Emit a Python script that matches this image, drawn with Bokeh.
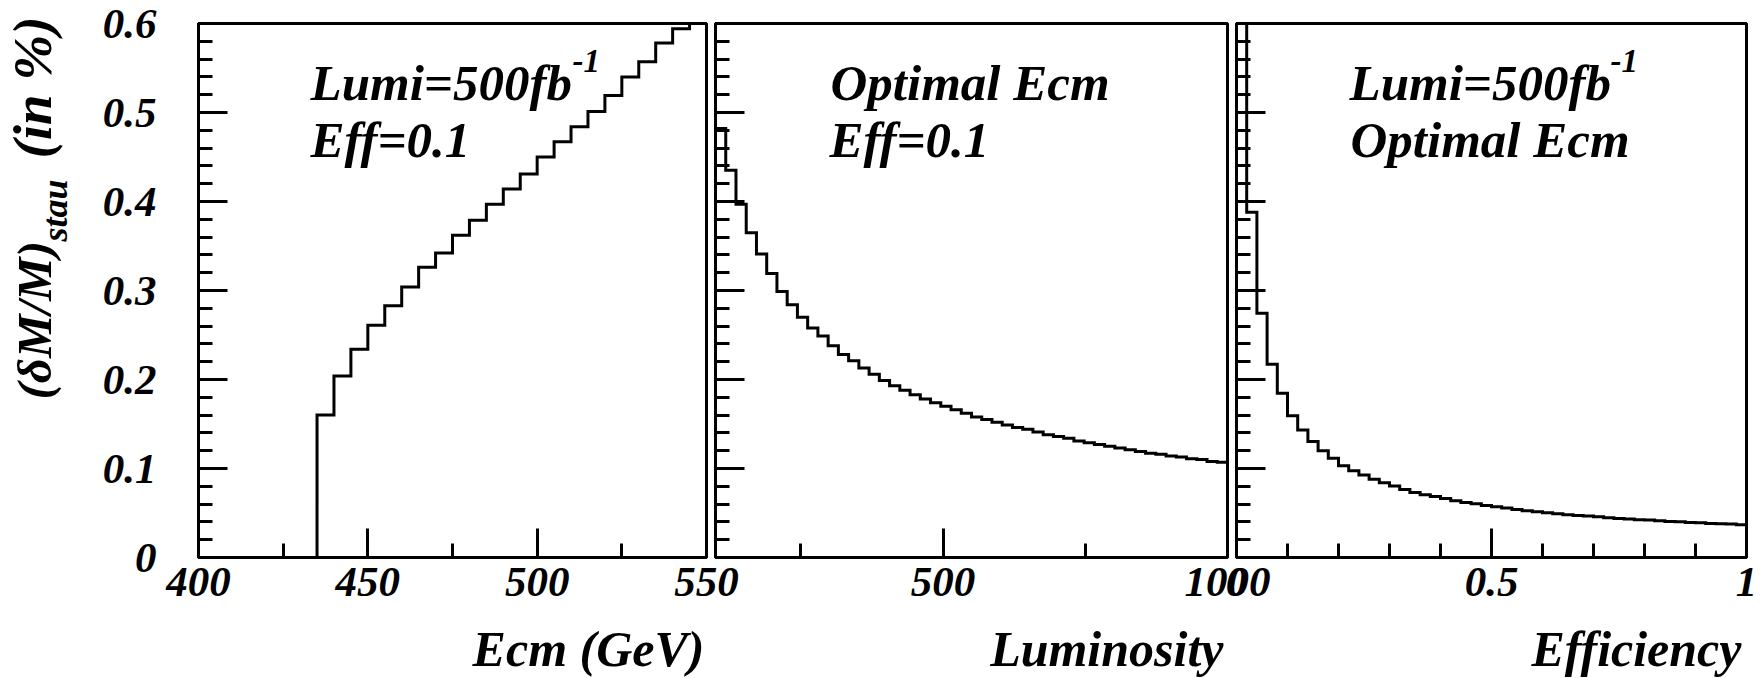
import numpy as np
from bokeh.plotting import figure
from bokeh.models import Range1d, FixedTicker, NumeralTickFormatter, CustomJSTickFormatter, Label
from bokeh.layouts import row, column
from bokeh.embed import file_html
from bokeh.resources import INLINE

# ---------------- data ----------------
# Panel 1: (dM/M) vs centre-of-mass energy, 5 GeV bins from 400 to 550
ecm_edges = list(range(400, 555, 5))
ecm_values = [0, 0, 0, 0, 0, 0, 0,
              0.160, 0.204, 0.234, 0.261, 0.283, 0.304, 0.326, 0.342, 0.362,
              0.379, 0.397, 0.414, 0.431, 0.450, 0.467, 0.484, 0.501, 0.519,
              0.540, 0.557, 0.578, 0.594, 0.612]

# Panel 2: vs luminosity, 50 bins from 100 to 1000
lumi_edges = list(range(100, 1001, 18))
lumi_values = [0.482, 0.435, 0.397, 0.365, 0.341, 0.319, 0.299, 0.284, 0.270, 0.258,
               0.249, 0.238, 0.228, 0.221, 0.213, 0.206, 0.199, 0.193, 0.188, 0.183,
               0.178, 0.174, 0.170, 0.166, 0.162, 0.158, 0.155, 0.152, 0.149, 0.146,
               0.144, 0.141, 0.138, 0.136, 0.134, 0.131, 0.129, 0.127, 0.125, 0.123,
               0.121, 0.119, 0.117, 0.116, 0.114, 0.113, 0.111, 0.110, 0.108, 0.107]

# Panel 3: vs efficiency, 50 bins from 0 to 1
eff_edges = [i / 50 for i in range(51)]
eff_values = [0.82, 0.388, 0.2745, 0.217, 0.1845, 0.1594, 0.1433, 0.1302, 0.1200, 0.1114,
              0.1032, 0.0975, 0.0927, 0.0878, 0.0840, 0.0803, 0.0765, 0.0731, 0.0705, 0.0686,
              0.0664, 0.0638, 0.0619, 0.0604, 0.0585, 0.0570, 0.0555, 0.0540, 0.0525, 0.0514,
              0.0503, 0.0492, 0.0480, 0.0472, 0.0465, 0.0458, 0.0447, 0.0439, 0.0432, 0.0424,
              0.0421, 0.0413, 0.0405, 0.0402, 0.0394, 0.0390, 0.0383, 0.0379, 0.0376, 0.0368]

y_major = [0, 0.1, 0.2, 0.3, 0.4, 0.5, 0.6]
y_minor = [round(0.02 * i, 2) for i in range(31)]

ecm_major, ecm_minor = [400, 450, 500, 550], [425, 475, 525]
lumi_major, lumi_minor = [500, 1000], [250, 750]
eff_major = [0, 0.5, 1]
eff_minor = [0.1, 0.2, 0.3, 0.4, 0.6, 0.7, 0.8, 0.9]

x_titles = ["Ecm (GeV)", "Luminosity", "Efficiency"]
y_title_parts = ["(\u03b4M/M)", "stau", "(in %)"]

FONT = "Liberation Serif"
STYLE = "bold italic"
W, H = 1763, 678
TOP, BOTTOM = 23, 121
FB = H - BOTTOM  # frame bottom, page px
MID = 0.3375     # label anchor sits this many em above the baseline


def make_panel(x_rng, width, bl, br, xmaj, xmin, show_ylabels):
    p = figure(width=width, height=H, x_range=x_rng, y_range=Range1d(0, 0.6),
               output_backend="svg", toolbar_location=None,
               min_border_left=bl, min_border_right=br,
               min_border_top=TOP, min_border_bottom=BOTTOM)
    p.border_fill_color = None
    p.background_fill_color = "white"
    p.outline_line_color = "black"
    p.outline_line_width = 3
    p.grid.visible = False
    for ax in (p.xaxis[0], p.yaxis[0]):
        ax.axis_line_width = 3
        ax.axis_line_color = "black"
        ax.major_tick_line_width = 3
        ax.minor_tick_line_width = 3
        ax.major_tick_in = 29
        ax.major_tick_out = 0
        ax.minor_tick_in = 14
        ax.minor_tick_out = 0
        ax.major_label_text_font = FONT
        ax.major_label_text_font_style = STYLE
        ax.major_label_text_font_size = "43px"
        ax.major_label_text_color = "black"
    p.xaxis.ticker = FixedTicker(ticks=xmaj, minor_ticks=xmin)
    p.xaxis.formatter = NumeralTickFormatter(format="0.[0]")
    p.xaxis.major_label_standoff = 10
    p.yaxis.ticker = FixedTicker(ticks=y_major, minor_ticks=y_minor)
    if show_ylabels:
        p.yaxis.formatter = NumeralTickFormatter(format="0.[0]")
        p.yaxis.major_label_standoff = 42
    else:
        p.yaxis.formatter = CustomJSTickFormatter(code="return ''")
        p.yaxis.major_label_standoff = 0
    return p


def add_text(p, x, y, text, size, align="left", rotated=False):
    # (x, y): baseline start point, screen px relative to the frame (y up)
    off = MID * size
    if rotated:
        x, y, angle = x - off, y, np.pi / 2
    else:
        x, y, angle = x, y + off, 0.0
    p.add_layout(Label(x=x, y=y, x_units="screen", y_units="screen", text=text,
                       text_font=FONT, text_font_style=STYLE, text_font_size=f"{size}px",
                       text_align=align, text_baseline="alphabetic", angle=angle,
                       text_color="black"))


def ys(page_y):
    # frame-relative screen y (from frame bottom) for a page baseline
    return FB - page_y


# ---------------- panel 1 ----------------
p1 = make_panel(Range1d(400, 550), 198 + 508 + 45, 198, 45, ecm_major, ecm_minor, True)
p1.step(x=ecm_edges, y=ecm_values + [ecm_values[-1]], mode="after",
        line_width=3, line_color="black", line_join="miter")
add_text(p1, 112, ys(100), "Lumi=500fb", 51)
add_text(p1, 374, ys(72), "-1", 33)
add_text(p1, 112, ys(157), "Eff=0.1", 51)

# ---------------- panel 2 ----------------
p2 = make_panel(Range1d(100, 1000), 25 + 512 + 48, 25, 48, lumi_major, lumi_minor, False)
p2.margin = (0, 0, 0, -61)
p2.step(x=lumi_edges, y=lumi_values + [lumi_values[-1]], mode="after",
        line_width=3, line_color="black", line_join="miter")
add_text(p2, 115, ys(100), "Optimal Ecm", 51)
add_text(p2, 114, ys(157), "Eff=0.1", 51)

# ---------------- panel 3 ----------------
p3 = make_panel(Range1d(0, 1), 25 + 510 + 17, 25, 17, eff_major, eff_minor, False)
p3.margin = (0, 0, 0, -64)
p3.step(x=eff_edges, y=eff_values + [eff_values[-1]], mode="after",
        line_width=3, line_color="black", line_join="miter")
add_text(p3, 113, ys(100), "Lumi=500fb", 51)
add_text(p3, 374, ys(72), "-1", 33)
add_text(p3, 114, ys(157), "Optimal Ecm", 51)

# ---------------- transparent overlay for axis titles ----------------
ov = figure(width=W, height=H, x_range=Range1d(0, W), y_range=Range1d(0, H),
            output_backend="svg", toolbar_location=None,
            x_axis_location=None, y_axis_location=None, min_border=0)
ov.margin = (-H, 0, 0, 0)
ov.grid.visible = False
ov.outline_line_color = None
ov.background_fill_color = None
ov.border_fill_color = None
# x axis titles, right aligned at each frame's right edge (baseline at page y 665)
add_text(ov, 704, H - 665, x_titles[0], 50, align="right")
add_text(ov, 1223, H - 665, x_titles[1], 50, align="right")
add_text(ov, 1741, H - 665, x_titles[2], 50, align="right")
# y axis title, rotated, reading upwards (baseline x = 51 page px)
add_text(ov, 51, H - 399, y_title_parts[0], 49, rotated=True)
add_text(ov, 67, H - 241, y_title_parts[1], 36, rotated=True)
add_text(ov, 51, H - 158, y_title_parts[2], 55, rotated=True)

layout = column(row(p1, p2, p3), ov)
open("out.html", "w").write(file_html(layout, INLINE))
